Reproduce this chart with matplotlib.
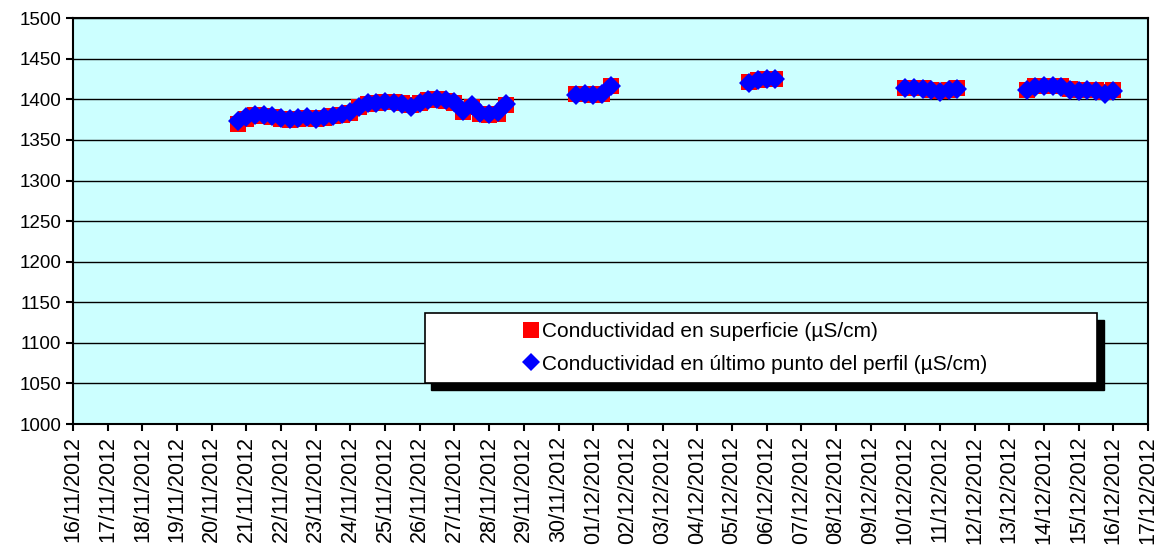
import matplotlib
matplotlib.use('Agg')
import matplotlib.pyplot as plt
import matplotlib.dates as mdates
from matplotlib.patches import Rectangle
from matplotlib.lines import Line2D
import pandas as pd

plt.rcParams['font.family'] = ['Liberation Sans', 'DejaVu Sans']

# ── data ──────────────────────────────────────────────────────
times = (
    list(pd.date_range('2012-11-20 18:00', '2012-11-28 12:00', freq='6h'))
    + list(pd.date_range('2012-11-30 12:00', '2012-12-01 12:00', freq='6h'))
    + list(pd.date_range('2012-12-05 12:00', '2012-12-06 06:00', freq='6h'))
    + list(pd.date_range('2012-12-10 00:00', '2012-12-11 12:00', freq='6h'))
    + list(pd.date_range('2012-12-13 12:00', '2012-12-16 00:00', freq='6h'))
)

cond_superficie = [
    1370, 1376, 1381, 1380, 1378, 1376, 1375, 1376, 1377, 1376, 1377, 1380,
    1381, 1383, 1390, 1394, 1395, 1397, 1397, 1395, 1393, 1396, 1399, 1400,
    1398, 1396, 1385, 1391, 1382, 1381, 1382, 1393,
    1406, 1406, 1405, 1406, 1416,
    1421, 1424, 1425, 1425,
    1414, 1414, 1414, 1412, 1410, 1411, 1414,
    1411, 1416, 1416, 1416, 1416, 1413, 1411, 1412, 1411, 1409, 1411,
]
cond_fondo = [
    1373, 1378, 1381, 1381, 1379, 1377, 1376, 1377, 1378, 1376, 1378, 1380,
    1382, 1384, 1391, 1395, 1396, 1397, 1396, 1394, 1391, 1395, 1399, 1400,
    1399, 1397, 1386, 1393, 1383, 1382, 1384, 1394,
    1405, 1407, 1405, 1407, 1416,
    1420, 1424, 1425, 1425,
    1414, 1414, 1413, 1412, 1409, 1411, 1413,
    1411, 1415, 1416, 1416, 1415, 1411, 1410, 1411, 1410, 1407, 1410,
]

lab_sup = 'Conductividad en superficie (µS/cm)'
lab_fon = 'Conductividad en último punto del perfil (µS/cm)'

# ── figure ───────────────────────────────────────────────────
fig = plt.figure(figsize=(11.65, 5.5), dpi=100)
ax = fig.add_axes([0.0627, 0.229, 0.9227, 0.738])
ax.set_facecolor('#CCFFFF')

ax.plot(times, cond_superficie, linestyle='none', marker='s', markersize=12,
        color='#FF0000', markeredgewidth=0, zorder=3)
ax.plot(times, cond_fondo, linestyle='none', marker='D', markersize=10.5,
        color='#0000FF', markeredgewidth=0, zorder=4)

ax.set_ylim(1000, 1500)
ax.set_yticks(range(1000, 1501, 50))
ax.set_xlim(mdates.date2num(pd.Timestamp('2012-11-16')),
            mdates.date2num(pd.Timestamp('2012-12-17')))
ax.xaxis.set_major_locator(mdates.DayLocator())
ax.xaxis.set_major_formatter(mdates.DateFormatter('%d/%m/%Y'))
ax.yaxis.grid(True, color='black', linewidth=1)
ax.set_axisbelow(True)

ax.tick_params(axis='y', labelsize=13.5, direction='out', length=5, width=1.5)
ax.tick_params(axis='x', labelsize=15.5, direction='out', length=5, width=1.5,
               rotation=90)
for s in ax.spines.values():
    s.set_linewidth(1.5)
    s.set_color('black')

# legend box with solid shadow
x0, y0, w, h = 0.327, 0.101, 0.626, 0.172
ax.add_patch(Rectangle((x0 + 0.006, y0 - 0.017), w, h, transform=ax.transAxes,
                       facecolor='black', edgecolor='black', zorder=5))
ax.add_patch(Rectangle((x0, y0), w, h, transform=ax.transAxes,
                       facecolor='white', edgecolor='black', linewidth=1.2,
                       zorder=6))
handles = [
    Line2D([], [], linestyle='none', marker='s', markersize=11,
           color='#FF0000', markeredgewidth=0),
    Line2D([], [], linestyle='none', marker='D', markersize=9,
           color='#0000FF', markeredgewidth=0),
]
leg = ax.legend(handles, [lab_sup, lab_fon], loc='center left',
                bbox_to_anchor=(0.419, 0.188), frameon=False, fontsize=15,
                handlelength=0.7, handletextpad=0.2, labelspacing=0.65,
                borderpad=0, borderaxespad=0)
leg.set_zorder(7)

plt.savefig('out.png', dpi=100)
plt.close()
